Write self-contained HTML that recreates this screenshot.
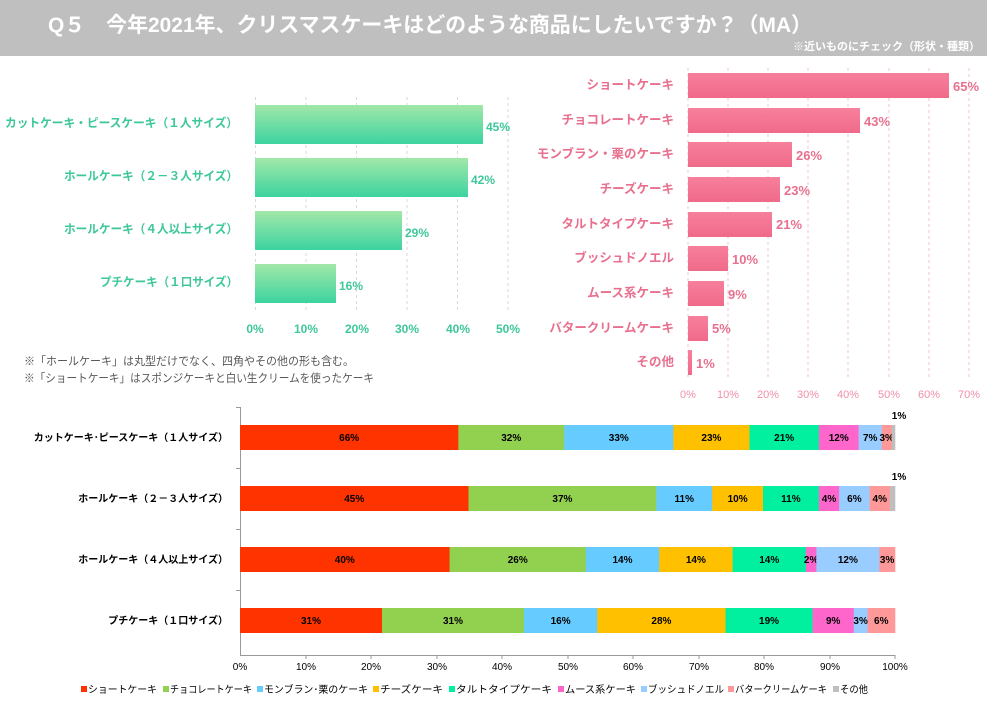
<!DOCTYPE html>
<html><head><meta charset="utf-8"><style>
body{margin:0;width:987px;height:706px;background:#fff;overflow:hidden;font-family:"Liberation Sans","Noto Sans CJK JP",sans-serif;}
svg text{font-family:"Liberation Sans","Noto Sans CJK JP",sans-serif;}
</style></head><body>
<svg width="987" height="706" xmlns="http://www.w3.org/2000/svg">
<defs>
<linearGradient id="g" x1="0" y1="0" x2="0" y2="1"><stop offset="0" stop-color="#a2e8a8"/><stop offset="1" stop-color="#3cd3a0"/></linearGradient>
<linearGradient id="p" x1="0" y1="0" x2="0" y2="1"><stop offset="0" stop-color="#f7809c"/><stop offset="1" stop-color="#f06a8a"/></linearGradient>
</defs>
<rect x="0" y="0" width="987" height="56" fill="#bfbfbf"/>
<text x="48" y="32" font-size="21" font-weight="bold" fill="#fff" textLength="764" lengthAdjust="spacingAndGlyphs">Q５　今年2021年、クリスマスケーキはどのような商品にしたいですか？（MA）</text>
<text x="980" y="50" font-size="11" font-weight="bold" fill="#fff" text-anchor="end">※近いものにチェック（形状・種類）</text>

<g stroke="#d9d9d9" stroke-dasharray="3,3">
<line x1="255.5" y1="97" x2="255.5" y2="310"/><line x1="306" y1="97" x2="306" y2="310"/><line x1="356.5" y1="97" x2="356.5" y2="310"/><line x1="407" y1="97" x2="407" y2="310"/><line x1="457.5" y1="97" x2="457.5" y2="310"/><line x1="508" y1="97" x2="508" y2="310"/>
</g>
<g fill="url(#g)">
<rect x="255" y="105" width="228" height="39"/><rect x="255" y="158" width="213" height="39"/><rect x="255" y="211" width="147" height="39"/><rect x="255" y="264" width="81" height="39"/>
</g>
<g font-size="12" font-weight="bold" fill="#3ec89a">
<text x="486" y="131">45%</text><text x="471" y="184">42%</text><text x="405" y="237">29%</text><text x="339" y="290">16%</text>
<text x="5" y="127" textLength="233" lengthAdjust="spacingAndGlyphs">カットケーキ・ピースケーキ（１人サイズ）</text>
<text x="64" y="180" textLength="174" lengthAdjust="spacingAndGlyphs">ホールケーキ（２－３人サイズ）</text>
<text x="64" y="233" textLength="174" lengthAdjust="spacingAndGlyphs">ホールケーキ（４人以上サイズ）</text>
<text x="100" y="286" textLength="138" lengthAdjust="spacingAndGlyphs">プチケーキ（１口サイズ）</text>
<g text-anchor="middle"><text x="255" y="333">0%</text><text x="306" y="333">10%</text><text x="357" y="333">20%</text><text x="407" y="333">30%</text><text x="458" y="333">40%</text><text x="508" y="333">50%</text></g>
</g>
<text x="24" y="365" font-size="11.5" fill="#595959" textLength="330" lengthAdjust="spacingAndGlyphs">※「ホールケーキ」は丸型だけでなく、四角やその他の形も含む。</text>
<text x="24" y="382" font-size="11.5" fill="#595959" textLength="350" lengthAdjust="spacingAndGlyphs">※「ショートケーキ」はスポンジケーキと白い生クリームを使ったケーキ</text>

<g stroke="#f2c4d0" stroke-dasharray="3,3">
<line x1="688" y1="68" x2="688" y2="378"/><line x1="728" y1="68" x2="728" y2="378"/><line x1="768" y1="68" x2="768" y2="378"/><line x1="808" y1="68" x2="808" y2="378"/><line x1="848" y1="68" x2="848" y2="378"/><line x1="889" y1="68" x2="889" y2="378"/><line x1="929" y1="68" x2="929" y2="378"/><line x1="969" y1="68" x2="969" y2="378"/>
</g>
<g fill="url(#p)">
<rect x="688" y="73" width="261" height="25"/><rect x="688" y="108" width="172" height="25"/><rect x="688" y="142" width="104" height="25"/><rect x="688" y="177" width="92" height="25"/><rect x="688" y="212" width="84" height="25"/><rect x="688" y="246" width="40" height="25"/><rect x="688" y="281" width="36" height="25"/><rect x="688" y="316" width="20" height="25"/><rect x="688" y="350" width="4" height="25"/>
</g>
<g font-size="13" font-weight="bold" fill="#e8708e">
<text x="953" y="91">65%</text><text x="864" y="126">43%</text><text x="796" y="160">26%</text><text x="784" y="195">23%</text><text x="776" y="229">21%</text><text x="732" y="264">10%</text><text x="728" y="299">9%</text><text x="712" y="333">5%</text><text x="696" y="368">1%</text>
<g text-anchor="end" font-size="12.5"><text x="674" y="89">ショートケーキ</text><text x="674" y="124">チョコレートケーキ</text><text x="674" y="158">モンブラン・栗のケーキ</text><text x="674" y="193">チーズケーキ</text><text x="674" y="228">タルトタイプケーキ</text><text x="674" y="262">ブッシュドノエル</text><text x="674" y="297">ムース系ケーキ</text><text x="674" y="332">バタークリームケーキ</text><text x="674" y="366">その他</text></g>
<g text-anchor="middle" font-size="11" font-weight="normal" fill="#f090a8"><text x="688" y="398">0%</text><text x="728" y="398">10%</text><text x="768" y="398">20%</text><text x="808" y="398">30%</text><text x="848" y="398">40%</text><text x="889" y="398">50%</text><text x="929" y="398">60%</text><text x="969" y="398">70%</text></g>
</g>

<line x1="240.5" y1="407" x2="240.5" y2="655" stroke="#999"/>
<line x1="240" y1="655.5" x2="895" y2="655.5" stroke="#999"/>
<g stroke="#999">
<line x1="236" y1="407.5" x2="240" y2="407.5"/><line x1="236" y1="468.5" x2="240" y2="468.5"/><line x1="236" y1="529.5" x2="240" y2="529.5"/><line x1="236" y1="590.5" x2="240" y2="590.5"/>
<line x1="306" y1="655" x2="306" y2="659"/><line x1="371" y1="655" x2="371" y2="659"/><line x1="437" y1="655" x2="437" y2="659"/><line x1="502" y1="655" x2="502" y2="659"/><line x1="568" y1="655" x2="568" y2="659"/><line x1="633" y1="655" x2="633" y2="659"/><line x1="699" y1="655" x2="699" y2="659"/><line x1="764" y1="655" x2="764" y2="659"/><line x1="830" y1="655" x2="830" y2="659"/><line x1="895" y1="655" x2="895" y2="659"/>
</g>
<g id="bars" font-size="10" font-weight="bold" fill="#000" text-anchor="middle"></g>
<g font-size="10" font-weight="bold" fill="#000" text-anchor="end">
<text x="228" y="441">カットケーキ･ピースケーキ（１人サイズ）</text><text x="228" y="502">ホールケーキ（２－３人サイズ）</text><text x="228" y="563">ホールケーキ（４人以上サイズ）</text><text x="228" y="624">プチケーキ（１口サイズ）</text>
</g>
<g font-size="10" fill="#000" text-anchor="middle">
<text x="240" y="670">0%</text><text x="306" y="670">10%</text><text x="371" y="670">20%</text><text x="437" y="670">30%</text><text x="502" y="670">40%</text><text x="568" y="670">50%</text><text x="633" y="670">60%</text><text x="699" y="670">70%</text><text x="764" y="670">80%</text><text x="830" y="670">90%</text><text x="895" y="670">100%</text>
</g>
<g font-size="10" fill="#000" lengthAdjust="spacingAndGlyphs">
<rect x="81" y="686" width="6" height="6" fill="#ff3300"/><text x="88" y="693" textLength="69" lengthAdjust="spacingAndGlyphs">ショートケーキ</text>
<rect x="163" y="686" width="6" height="6" fill="#92d050"/><text x="170" y="693" textLength="82" lengthAdjust="spacingAndGlyphs">チョコレートケーキ</text>
<rect x="257" y="686" width="6" height="6" fill="#66ccff"/><text x="264" y="693" textLength="104" lengthAdjust="spacingAndGlyphs">モンブラン･栗のケーキ</text>
<rect x="373" y="686" width="6" height="6" fill="#ffc000"/><text x="380" y="693" textLength="63" lengthAdjust="spacingAndGlyphs">チーズケーキ</text>
<rect x="449" y="686" width="6" height="6" fill="#00f0a0"/><text x="456" y="693" textLength="96" lengthAdjust="spacingAndGlyphs">タルトタイプケーキ</text>
<rect x="558" y="686" width="6" height="6" fill="#ff66cc"/><text x="565" y="693" textLength="71" lengthAdjust="spacingAndGlyphs">ムース系ケーキ</text>
<rect x="641" y="686" width="6" height="6" fill="#99ccff"/><text x="648" y="693" textLength="76" lengthAdjust="spacingAndGlyphs">ブッシュドノエル</text>
<rect x="728" y="686" width="6" height="6" fill="#ff9999"/><text x="735" y="693" textLength="92" lengthAdjust="spacingAndGlyphs">バタークリームケーキ</text>
<rect x="833" y="686" width="6" height="6" fill="#bfbfbf"/><text x="840" y="693" textLength="28" lengthAdjust="spacingAndGlyphs">その他</text>
</g>
<script>
var cols=["#ff3300","#92d050","#66ccff","#ffc000","#00f0a0","#ff66cc","#99ccff","#ff9999","#bfbfbf"];
var data=[[66,32,33,23,21,12,7,3,1],[45,37,11,10,11,4,6,4,1],[40,26,14,14,14,2,12,3,0],[31,31,16,28,19,9,3,6,0]];
var tops=[425,486,547,608];var g=document.getElementById("bars");var ns="http://www.w3.org/2000/svg";
data.forEach(function(r,i){var s=r.reduce(function(a,b){return a+b},0);var x=240;
r.forEach(function(v,j){if(!v)return;var w=v/s*655;var re=document.createElementNS(ns,"rect");
re.setAttribute("x",x);re.setAttribute("y",tops[i]);re.setAttribute("width",w+0.3);re.setAttribute("height",25);re.setAttribute("fill",cols[j]);g.appendChild(re);
var t=document.createElementNS(ns,"text");
if(j==8){t.setAttribute("x",899);t.setAttribute("y",tops[i]-6);}else{t.setAttribute("x",x+w/2);t.setAttribute("y",tops[i]+16);}
t.textContent=v+"%";g.appendChild(t);x+=w;});});
</script>
</svg>
</body></html>
